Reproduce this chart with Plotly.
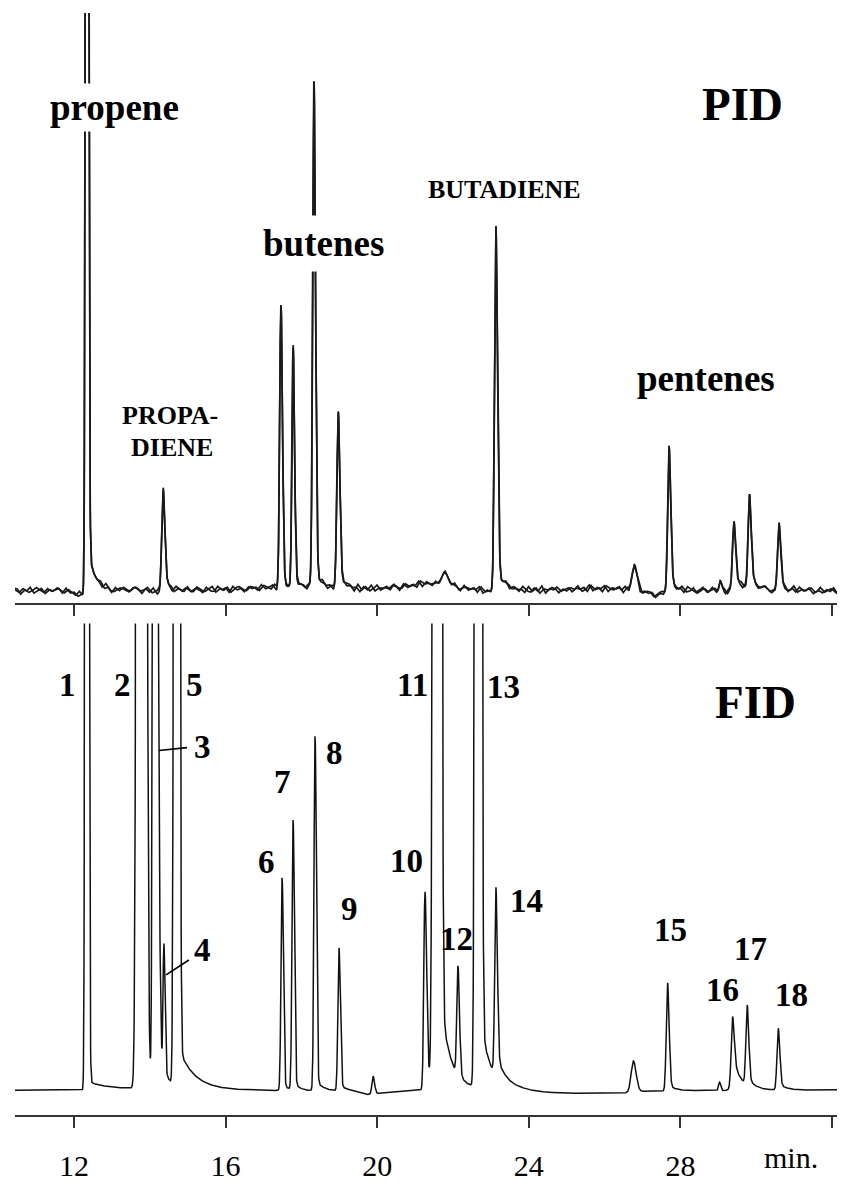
import numpy as np
import plotly.graph_objects as go

# ---------------- data ----------------
x_range = [10.443, 32.343]          # retention time (min)
tick_vals = [12, 16, 20, 24, 28, 32]
tick_text = ["12", "16", "20", "24", "28", ""]

# PID trace peaks: retention time, height, left/right width, tail amplitude, tail decay
pid_rt     = [12.34, 14.35, 17.46, 17.78, 18.33, 18.97, 21.76, 23.13, 26.78, 27.70, 29.05, 29.41, 29.82, 30.60]
pid_height = [400.0, 16.5, 46.8, 39.5, 84.7, 29.1, 2.0, 59.6, 4.0, 24.0, 1.6, 10.0, 14.8, 10.5]
pid_sig_l  = [0.028, 0.035, 0.033, 0.030, 0.033, 0.035, 0.09, 0.035, 0.06, 0.035, 0.03, 0.035, 0.035, 0.035]
pid_sig_r  = [0.032, 0.045, 0.040, 0.038, 0.042, 0.045, 0.11, 0.045, 0.07, 0.045, 0.03, 0.045, 0.045, 0.045]
pid_tail_a = [8.0, 2.0, 2.0, 2.5, 3.0, 2.0, 0.0, 4.0, 0.6, 2.0, 0.0, 3.0, 2.5, 1.5]
pid_tail_t = [0.22, 0.2, 0.12, 0.15, 0.2, 0.2, 0.1, 0.2, 0.2, 0.2, 0.1, 0.2, 0.2, 0.2]
pid_base_t = [10.44, 11.7, 12.2, 13.5, 14.2, 16.0, 17.2, 19.5, 20.5, 21.3, 22.2, 22.9, 24.5, 26.3, 27.3, 28.2, 29.0, 31.0, 32.34]
pid_base_v = [0.3, 0.5, -0.4, 0.6, 0.2, 0.6, 0.9, 0.6, 0.9, 1.6, 0.9, 0.3, 0.5, 0.8, -0.3, 0.3, 0.4, 0.3, 0.4]
pid_noise = [
    2, -3, 4, -1, 5, -4, 0, 3, -5, 1,
    -2, 4, -1, -4, 3, 1, -3, 5, -2, -5,
    4, -1, 2, -3, 6, -2, -4, 1, 3, -1,
    -5, 2, 4, -2, 0, 5, -3, -1, 4, -4,
    1, 3, -5, 2, -2, 4, -1, -3, 5, 0,
    -3, 1, 5, -4, 2, -2, 3, -5, 1, 4,
    -1, -4, 3, 2, -3, 5, -2, 0, 4, -5,
    3, -2, 1, -5, 4, -1, 2, -3, 6, -2,
    -4, 5, -1, 3, -3, 1, -5, 2, 4, -1,
    2, -5, 3, -2, 5, -4, 1, -1, 3, -3,
    5, -1, -3, 4, -2, 2, -4, 5, -1, 1,
    -3, 4, -5, 1, 3, -2, 5, -4, 0, 2,
    -1, 3, -4, 5, -2, 1, -3, 4, -5, 2,
    4, -2, 1, -3, 5, -1, -4, 3, -2, 6,
    -5, 2, -1, 4, -3, 0, 3, -4, 2, -1,
    3, -4, 5, -2, 1, -5, 4, -1, -3, 2,
    -2, 5, -3, 1, 4, -4, 2, -1, 3, -5,
    1, -2, 4, -5, 3, -1, 5, -3, -2, 4,
    -4, 1, 3, -2, 5, -3, 0, 4, -5, 2,
    2, -1, -4, 5, -2, 3, -5, 1, 4, -3,
    -1, 4, -2, 3, -5, 2, -3, 5, -1, 1,
    5, -3, 1, -4, 2, -2, 4, -5, 3, -1,
    -2, 3, -4, 1, 5, -1, -3, 2, -5, 4,
]
pid_noise_step = 0.1
pid_noise_scale = 0.11

# FID trace peaks (1..18 plus two small unnumbered ones)
fid_rt     = [12.34, 13.77, 14.11, 14.37, 14.71, 17.49, 17.78, 18.36, 18.99, 19.89, 21.26, 21.59, 22.13, 22.66, 23.13, 26.76, 27.66, 29.03, 29.37, 29.76, 30.58]
fid_height = [1500, 3000, 300, 28.0, 2000, 45.0, 57.0, 75.0, 30.0, 3.8, 41.0, 3000, 23.0, 3000, 38.0, 6.5, 22.5, 1.8, 11.7, 16.2, 12.5]
fid_sig_l  = [0.027, 0.056, 0.030, 0.022, 0.038, 0.028, 0.028, 0.028, 0.028, 0.03, 0.030, 0.055, 0.030, 0.040, 0.030, 0.06, 0.033, 0.025, 0.032, 0.032, 0.032]
fid_sig_r  = [0.030, 0.066, 0.075, 0.030, 0.040, 0.034, 0.034, 0.034, 0.036, 0.04, 0.045, 0.050, 0.040, 0.045, 0.040, 0.07, 0.042, 0.030, 0.045, 0.042, 0.042]
fid_tail_a = [2.0, 8.0, 0.0, 5.0, 9.9, 1.5, 2.0, 2.5, 1.5, 0.0, 3.0, 28.0, 1.0, 20.0, 5.0, 0.5, 1.5, 0.0, 8.0, 2.0, 1.5]
fid_tail_t = [0.5, 0.15, 0.1, 0.15, 0.41, 0.15, 0.15, 0.2, 0.2, 0.1, 0.15, 0.25, 0.2, 0.25, 0.3, 0.2, 0.2, 0.1, 0.2, 0.2, 0.2]
fid_base_t = [10.44, 12.2, 13.5, 16.5, 19.3, 19.7, 20.2, 21.0, 23.8, 24.5, 25.5, 26.5, 27.2, 28.5, 31.0, 32.34]
fid_base_v = [0.0, 0.0, 0.2, 0.0, -0.3, -1.0, -0.5, 0.0, -0.1, -0.5, -0.7, -0.6, -0.3, -0.1, 0.0, 0.1]

# label texts
pid_texts = ["propene", "butenes", "PID", "BUTADIENE", "PROPA-", "DIENE", "pentenes"]
fid_numbers = ["1", "2", "5", "3", "4", "6", "7", "8", "9", "10", "11", "12",
               "13", "14", "15", "16", "17", "18"]
fid_title = "FID"
axis_unit = "min."

# ---------------- label placement (time, signal) ----------------
pid_pos = [(13.08, 82.3), (18.57, 59.3), (29.63, 82.9), (23.35, 68.4),
           (14.53, 30.1), (14.59, 24.6), (28.68, 36.4)]
pid_size = [37, 37, 47, 26, 26, 26, 37]
pid_box = [3, 7, None, None, None, None, None]     # white box breaking the peak line
fid_pos = [(11.82, 86.8), (13.29, 86.8), (15.19, 86.8), (15.40, 73.6),
           (15.40, 30.0), (17.07, 48.9), (17.51, 66.0), (18.86, 72.3),
           (19.28, 38.9), (20.76, 49.1), (20.92, 86.8), (22.08, 32.3),
           (23.32, 86.4), (23.95, 40.6), (27.73, 34.3), (29.12, 21.5),
           (29.84, 30.2), (30.94, 20.4)]
fid_title_pos = (29.97, 83.2)
fid_leaders = [((14.24, 72.8), (14.98, 73.4)), ((14.43, 24.7), (15.03, 27.9))]


# ---------------- build traces ----------------
def chromatogram(t, rt, h, sl, sr, ta, tt):
    y = np.zeros_like(t)
    for t0, hh, a, b, A, tau in zip(rt, h, sl, sr, ta, tt):
        d = t - t0
        s = np.where(d < 0, a, b)
        y += hh * np.exp(-0.5 * (d / s) ** 2)
        if A > 0:
            sig = 1.0 / (1.0 + np.exp(-np.clip(d / a, -60, 60)))
            y += A * np.exp(-np.maximum(d, 0) / tau) * sig
    return y


t = np.arange(x_range[0], x_range[1] + 0.0025, 0.005)

pid_clean = chromatogram(t, pid_rt, pid_height, pid_sig_l, pid_sig_r, pid_tail_a, pid_tail_t)
pid_clean += np.interp(t, pid_base_t, pid_base_v)
noise_arr = np.array(pid_noise, dtype=float)
noise_t = x_range[0] + pid_noise_step * np.arange(len(noise_arr))
pid_a = pid_clean + pid_noise_scale * np.interp(t, noise_t, noise_arr)
pid_b = pid_clean + pid_noise_scale * np.interp(t, noise_t + pid_noise_step / 2, noise_arr[::-1])

fid_y = chromatogram(t, fid_rt, fid_height, fid_sig_l, fid_sig_r, fid_tail_a, fid_tail_t)
fid_y += np.interp(t, fid_base_t, fid_base_v)

fig = go.Figure()
for yy in (pid_a, pid_b):
    fig.add_trace(go.Scatter(x=t, y=yy, mode="lines", line=dict(color="#1a1a1a", width=1.7),
                             xaxis="x", yaxis="y", showlegend=False, hoverinfo="skip"))
fig.add_trace(go.Scatter(x=t, y=fid_y, mode="lines", line=dict(color="#111", width=1.5),
                         xaxis="x2", yaxis="y2", showlegend=False, hoverinfo="skip"))

serif = "Liberation Serif"
annotations = []
for txt, (x, y), size, pad in zip(pid_texts, pid_pos, pid_size, pid_box):
    ann = dict(text="<b>%s</b>" % txt, x=x, y=y, xref="x", yref="y", showarrow=False,
               font=dict(family=serif, size=size, color="black"))
    if pad is not None:
        ann.update(bgcolor="white", borderpad=pad)
    annotations.append(ann)
for txt, (x, y) in zip(fid_numbers, fid_pos):
    annotations.append(dict(text="<b>%s</b>" % txt, x=x, y=y, xref="x2", yref="y2",
                            showarrow=False, font=dict(family=serif, size=33, color="black")))
annotations.append(dict(text="<b>%s</b>" % fid_title, x=fid_title_pos[0], y=fid_title_pos[1],
                        xref="x2", yref="y2", showarrow=False,
                        font=dict(family=serif, size=47, color="black")))
annotations.append(dict(text=axis_unit, x=30.91, y=-0.0386, xref="x2", yref="paper",
                        yanchor="middle", showarrow=False,
                        font=dict(family=serif, size=30, color="black")))

shapes = []
for (x0, y0), (x1, y1) in fid_leaders:
    shapes.append(dict(type="line", x0=x0, y0=y0, x1=x1, y1=y1, xref="x2", yref="y2",
                       line=dict(color="black", width=1.6)))

axis_common = dict(range=x_range, showline=True, linecolor="#333", linewidth=1.8,
                   ticks="outside", ticklen=11, tickwidth=1.5, tickcolor="#333",
                   tickvals=tick_vals, showgrid=False, zeroline=False)

# the page adds an 8px body margin, so the figure is 8px smaller than the window
fig.update_layout(
    width=837, height=1174,
    margin=dict(l=7, r=0, t=0, b=59),
    paper_bgcolor="white", plot_bgcolor="white",
    xaxis=dict(axis_common, domain=[0, 1], anchor="y", showticklabels=False),
    yaxis=dict(domain=[0.46278, 0.99552], range=[-1.68, 98.32], visible=False),
    xaxis2=dict(axis_common, domain=[0, 1], anchor="y2", showticklabels=True,
                ticktext=tick_text, ticklabelstandoff=12,
                tickfont=dict(family=serif, size=30, color="black")),
    yaxis2=dict(domain=[0, 0.44395], range=[-5.32, 100], visible=False),
    annotations=annotations,
    shapes=shapes,
    showlegend=False,
)

fig.write_html("out.html")
